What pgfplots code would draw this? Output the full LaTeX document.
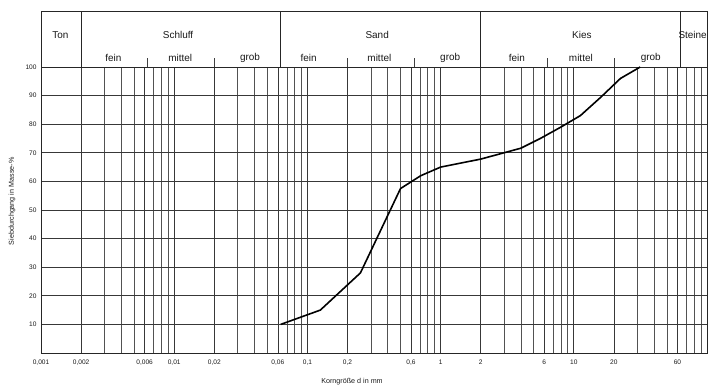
\documentclass[border=0pt]{standalone}
\usepackage{pgfplots}
\pgfplotsset{compat=1.18}
\usepackage{fontspec}
\setmainfont{Liberation Sans}
\begin{document}
\begin{tikzpicture}
\begin{axis}[
  xmode=log,
  scale only axis,
  width=666bp, height=286bp,
  xmin=0.001, xmax=100,
  ymin=0, ymax=100,
  clip=false,
  axis line style={black!85, line width=0.7bp},
  xtick={0.001,0.002,0.006,0.01,0.02,0.06,0.1,0.2,0.6,1,2,6,10,20,60},
  xticklabels={{0,001},{0,002},{0,006},{0,01},{0,02},{0,06},{0,1},{0,2},{0,6},1,2,6,10,20,60},
  minor xtick={0.003,0.004,0.005,0.007,0.008,0.009,
               0.03,0.04,0.05,0.07,0.08,0.09,
               0.3,0.4,0.5,0.7,0.8,0.9,
               3,4,5,7,8,9,
               30,40,50,70,80,90},
  ytick={10,20,30,40,50,60,70,80,90,100},
  major tick length=0pt, minor tick length=0pt,
  grid=both,
  major grid style={black!78, line width=0.65bp},
  minor grid style={black!68, line width=0.55bp},
  /pgf/number format/assume math mode=true,
  ticklabel style={font=\fontsize{6.6}{7}\selectfont, text=black!90},
  xticklabel style={yshift=-3bp},
  yticklabel style={xshift=-1bp},
  xlabel={Korngröße d in mm},
  ylabel={Siebdurchgang in Masse-\%},
  label style={font=\fontsize{7.2}{8}\selectfont, text=black!90},
  xlabel style={at={(rel axis cs:0.467,-0.101)}, anchor=center},
  ylabel style={at={(rel axis cs:-0.0435,0.53)}, anchor=center, rotate=0},
]
\addplot[black, line width=1.6bp, line join=round] coordinates {
  (0.063,10) (0.125,15) (0.25,28) (0.5,57.5) (0.71,62) (1,65) (2,67.8)
  (4,71.6) (5.6,75) (8,79) (11.2,83) (16,89.5) (22.4,96) (31.5,100)
};
% header box
\draw[black!85, line width=0.7bp] (axis cs:0.001,100) -- (axis cs:0.001,119.5) -- (axis cs:100,119.5) -- (axis cs:100,100);
\pgfplotsinvokeforeach{0.002,0.063,2,63}{
  \draw[black!85, line width=0.6bp] (axis cs:#1,100) -- (axis cs:#1,119.5);
}
\pgfplotsinvokeforeach{0.0063,0.02,0.2,0.63,6.3,20}{
  \draw[black!75, line width=0.5bp] (axis cs:#1,100) -- (axis cs:#1,103.3);
}
\node[font=\fontsize{10}{11}\selectfont, text=black!90] at (axis cs:0.0014,111.1) {Ton};
\node[font=\fontsize{10}{11}\selectfont, text=black!90] at (axis cs:0.0107,111.1) {Schluff};
\node[font=\fontsize{10}{11}\selectfont, text=black!90] at (axis cs:0.334,111.1) {Sand};
\node[font=\fontsize{10}{11}\selectfont, text=black!90] at (axis cs:11.5,111.1) {Kies};
\node[font=\fontsize{10}{11}\selectfont, text=black!90] at (axis cs:78,111.1) {Steine};
\node[font=\fontsize{10}{11}\selectfont, text=black!90] at (axis cs:0.00349,103.1) {fein};
\node[font=\fontsize{10}{11}\selectfont, text=black!90] at (axis cs:0.0111,103.1) {mittel};
\node[font=\fontsize{10}{11}\selectfont, text=black!90] at (axis cs:0.0371,103.1) {grob};
\node[font=\fontsize{10}{11}\selectfont, text=black!90] at (axis cs:0.102,103.1) {fein};
\node[font=\fontsize{10}{11}\selectfont, text=black!90] at (axis cs:0.347,103.1) {mittel};
\node[font=\fontsize{10}{11}\selectfont, text=black!90] at (axis cs:1.18,103.1) {grob};
\node[font=\fontsize{10}{11}\selectfont, text=black!90] at (axis cs:3.74,103.1) {fein};
\node[font=\fontsize{10}{11}\selectfont, text=black!90] at (axis cs:11.3,103.1) {mittel};
\node[font=\fontsize{10}{11}\selectfont, text=black!90] at (axis cs:37.8,103.1) {grob};
\coordinate (bl) at (rel axis cs:-0.0616,-0.1329);
\coordinate (tr) at (rel axis cs:1.0105,1.2343);
\end{axis}
\pgfresetboundingbox
\path (bl) rectangle (tr);
\end{tikzpicture}
\end{document}
